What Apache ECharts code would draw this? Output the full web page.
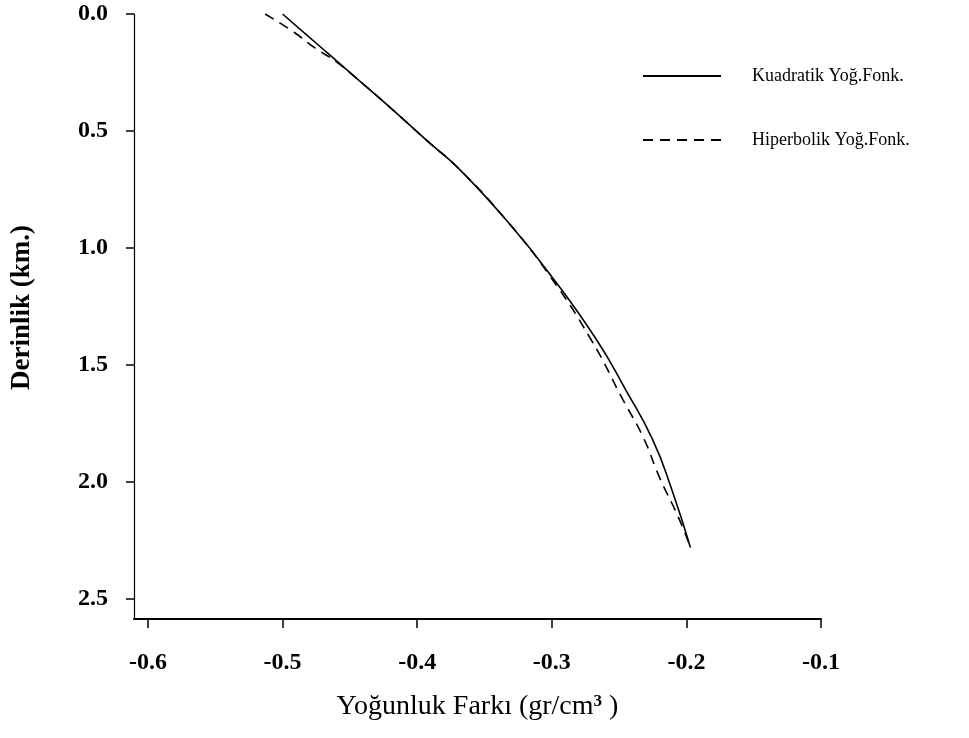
<!DOCTYPE html>
<html>
	<head>
		<meta charset="utf-8">
		<title>Yoğunluk Farkı - Derinlik</title>
		<script src="https://cdn.jsdelivr.net/npm/echarts@6/dist/echarts.min.js"></script>
	</head>
	<body style="margin:0;padding:0;background:#fff">
		<div id="chart" style="width: 969px;height:738px;border:none"></div>
	</body>
	<script type="text/javascript">
		// values: density difference (gr/cm3) vs depth (km)
		var kuadratikX = [-0.500, -0.482, -0.465, -0.442, -0.420, -0.393, -0.368, -0.331, -0.301, -0.267, -0.245, -0.225, -0.211, -0.197];
		var kuadratikZ = [0.00, 0.09, 0.175, 0.29, 0.40, 0.54, 0.667, 0.90, 1.115, 1.39, 1.607, 1.82, 2.03, 2.28];

		var hiperbolikX = [-0.513, -0.491, -0.476, -0.460, -0.442, -0.420, -0.393, -0.368, -0.331, -0.302, -0.271, -0.247, -0.232, -0.220, -0.206, -0.197];
		var hiperbolikZ = [0.00, 0.08, 0.145, 0.205, 0.29, 0.40, 0.54, 0.667, 0.90, 1.115, 1.39, 1.65, 1.81, 1.98, 2.15, 2.28];

		var xTicks = [-0.6, -0.5, -0.4, -0.3, -0.2, -0.1];
		var yTicks = [0, 0.5, 1.0, 1.5, 2.0, 2.5];

		var seriesNames = ["Kuadratik Yoğ.Fonk.", "Hiperbolik Yoğ.Fonk."];

		function pairs(xs, zs) {
			return xs.map((x, i) => [x, zs[i]]);
		}

		var serif = "Liberation Serif";
		var myChart = echarts.init(document.getElementById('chart'));

		var option = {
			backgroundColor: "#ffffff",
			animation: false,
			grid: {
				left: 134,
				right: 148,
				top: 14,
				bottom: 119
			},
			legend: {
				orient: "vertical",
				left: 637,
				top: 62,
				itemWidth: 78,
				itemHeight: 14,
				itemGap: 46,
				data: seriesNames,
				itemStyle: { opacity: 0 },
				textStyle: {
					color: "#000",
					fontFamily: serif,
					fontSize: 18,
					padding: [0, 0, 0, 26]
				}
			},
			xAxis: {
				type: "value",
				min: -0.6104,
				max: -0.1,
				splitLine: { show: false },
				axisLine: {
					onZero: false,
					lineStyle: { color: "#000", width: 2 }
				},
				axisTick: {
					customValues: xTicks,
					length: 9,
					lineStyle: { color: "#000", width: 1.5 }
				},
				axisLabel: {
					customValues: xTicks,
					margin: 32,
					color: "#000",
					fontFamily: serif,
					fontWeight: "bold",
					fontSize: 24,
					formatter: v => v.toFixed(1)
				},
				name: "{a|Yoğunluk Farkı (gr/cm}{s|3}{a| )}",
				nameLocation: "middle",
				nameGap: 74,
				nameTextStyle: {
					rich: {
						a: { fontFamily: serif, fontSize: 28, color: "#000" },
						s: { fontFamily: serif, fontSize: 17, fontWeight: "bold", color: "#000", verticalAlign: "top", padding: [0, 0, 10, 0] }
					}
				}
			},
			yAxis: {
				type: "value",
				inverse: true,
				min: 0,
				max: 2.5855,
				splitLine: { show: false },
				axisLine: {
					onZero: false,
					lineStyle: { color: "#000", width: 1.2 }
				},
				axisTick: {
					customValues: yTicks,
					length: 8,
					lineStyle: { color: "#000", width: 1.5 }
				},
				axisLabel: {
					customValues: yTicks,
					margin: 26,
					color: "#000",
					fontFamily: serif,
					fontWeight: "bold",
					fontSize: 24,
					formatter: v => v.toFixed(1)
				},
				name: "Derinlik (km.)",
				nameLocation: "middle",
				nameGap: 98,
				nameTextStyle: {
					color: "#000",
					fontFamily: serif,
					fontWeight: "bold",
					fontSize: 27,
					padding: [0, 0, 0, 18]
				}
			},
			series: [{
				name: seriesNames[0],
				type: "line",
				data: pairs(kuadratikX, kuadratikZ),
				symbol: "none",
				smooth: 0.5,
				itemStyle: { color: "#000" },
				lineStyle: { color: "#000", width: 1.6, type: "solid" }
			}, {
				name: seriesNames[1],
				type: "line",
				data: pairs(hiperbolikX, hiperbolikZ),
				symbol: "none",
				smooth: 0.5,
				itemStyle: { color: "#000" },
				lineStyle: { color: "#000", width: 1.6, type: [10, 7] }
			}]
		};
		myChart.setOption(option);
	</script>
</html>
